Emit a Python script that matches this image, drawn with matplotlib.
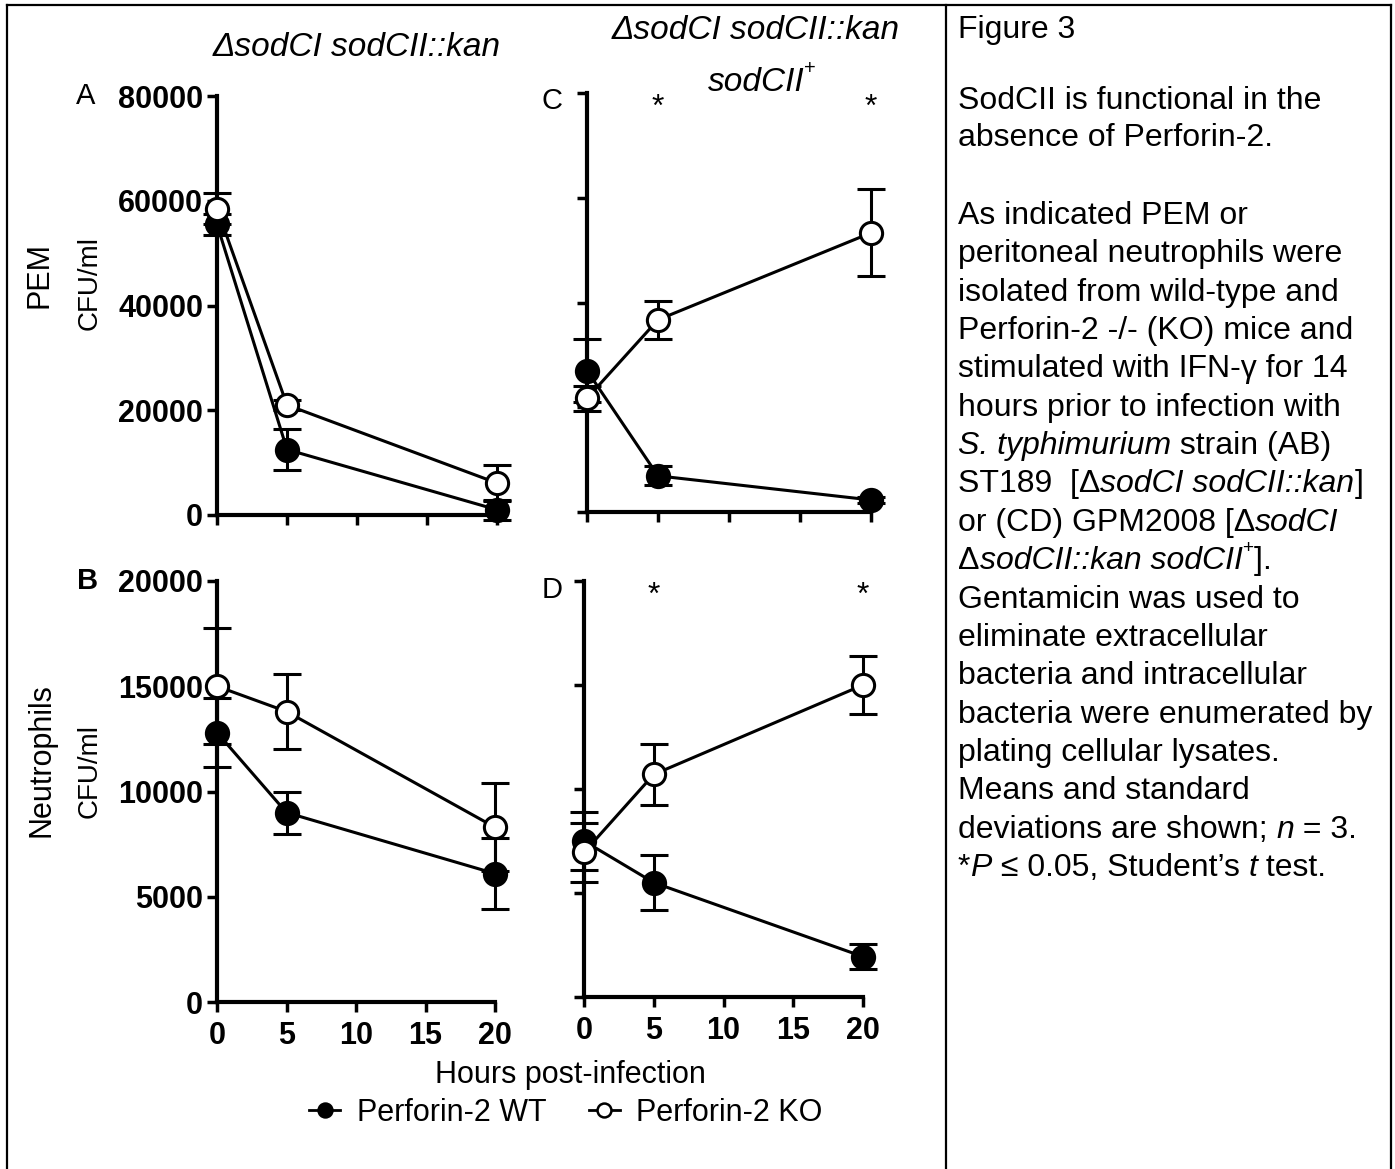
import matplotlib
matplotlib.use('Agg')
import matplotlib.pyplot as plt
from matplotlib.lines import Line2D

plt.rcParams['font.family'] = ['Liberation Sans', 'DejaVu Sans']

# time points and axis ticks
hours = [0, 5, 20]
x_ticks = [0, 5, 10, 15, 20]
pem_ticks = [0, 20000, 40000, 60000, 80000]
neu_ticks = [0, 5000, 10000, 15000, 20000]
series_names = ['Perforin-2 WT', 'Perforin-2 KO']
sig_hours = [5, 20]

# A: PEM, dsodCI sodCII::kan
pem_mut_wt = [55500, 12500, 1000]
pem_mut_wt_err = [2000, 3900, 1900]
pem_mut_ko = [58500, 21000, 6100]
pem_mut_ko_err = [3000, 1000, 3500]

# C: PEM, complemented
pem_comp_wt = [27000, 6900, 2300]
pem_comp_wt_err = [6000, 1800, 600]
pem_comp_ko = [21700, 36700, 53300]
pem_comp_ko_err = [2450, 3600, 8300]

# B: neutrophils, dsodCI sodCII::kan
neu_mut_wt = [12800, 9000, 6100]
neu_mut_wt_err = [1650, 1000, 1700]
neu_mut_ko = [15000, 13800, 8300]
neu_mut_ko_err = [2750, 1800, 2100]

# D: neutrophils, complemented
neu_comp_wt = [7500, 5500, 1940]
neu_comp_wt_err = [1400, 1325, 610]
neu_comp_ko = [6950, 10700, 15000]
neu_comp_ko_err = [1400, 1460, 1390]

W, H = 1395, 1169
fig = plt.figure(figsize=(W / 100, H / 100), dpi=100)
renderer = fig.canvas.get_renderer()


def px(x, y):
    return x / W, 1 - y / H


def panel(box, wt, wt_err, ko, ko_err, yticks, ylabels, xlabels, stars):
    l, t, r, b = box
    ax = fig.add_axes([l / W, 1 - b / H, (r - l) / W, (b - t) / H])
    ax.patch.set_visible(False)
    for y, err, face, z in [(wt, wt_err, 'black', 3), (ko, ko_err, 'white', 4)]:
        eb = ax.errorbar(hours, y, yerr=err, fmt='-o', color='black', mfc=face,
                         mec='black', ms=16, mew=2.2, lw=2.2, elinewidth=2.2,
                         capsize=10, capthick=2.2, zorder=z)
        for art in eb.get_children():
            art.set_clip_on(False)
    ax.set_xlim(0, 20)
    ax.set_ylim(yticks[0], yticks[-1])
    ax.set_xticks(x_ticks)
    ax.set_yticks(yticks)
    if ylabels:
        ax.set_yticklabels([str(v) for v in yticks])
    else:
        ax.set_yticklabels([])
    if xlabels:
        ax.set_xticklabels([str(v) for v in x_ticks])
    else:
        ax.set_xticklabels([])
    for side in ['top', 'right']:
        ax.spines[side].set_visible(False)
    for side in ['left', 'bottom']:
        ax.spines[side].set_linewidth(3)
        ax.spines[side].set_capstyle('projecting')
    ax.tick_params(length=7, width=2.5, direction='out')
    ax.tick_params(axis='y', pad=3, labelsize=22)
    ax.tick_params(axis='x', pad=7, labelsize=22)
    for lab in ax.get_xticklabels() + ax.get_yticklabels():
        lab.set_fontweight('bold')
    for s in stars:
        ax.text(s, 0.965, '*', transform=ax.get_xaxis_transform(),
                ha='center', va='center', fontsize=23)
    return ax


panel((217, 96, 497, 515), pem_mut_wt, pem_mut_wt_err, pem_mut_ko, pem_mut_ko_err,
      pem_ticks, True, False, [])
panel((587, 93, 871, 512), pem_comp_wt, pem_comp_wt_err, pem_comp_ko, pem_comp_ko_err,
      pem_ticks, False, False, sig_hours)
panel((217, 581, 495, 1002), neu_mut_wt, neu_mut_wt_err, neu_mut_ko, neu_mut_ko_err,
      neu_ticks, True, True, [])
panel((584, 581, 863, 997), neu_comp_wt, neu_comp_wt_err, neu_comp_ko, neu_comp_ko_err,
      neu_ticks, False, True, sig_hours)


def run_line(x, y, runs, size, align='left'):
    # draws a line made of pieces in different styles, y is the baseline in pixels
    widths = []
    for s, style in runs:
        fs = size * 0.6 if style == 'sup' else size
        st = 'italic' if style == 'it' else 'normal'
        probe = fig.text(0, 0, '|', fontsize=fs, fontstyle=st)
        bar = probe.get_window_extent(renderer).width
        probe.set_text(s + '|')
        widths.append(probe.get_window_extent(renderer).width - bar)
        probe.remove()
    cx = x - sum(widths) / 2 if align == 'center' else x
    for (s, style), w in zip(runs, widths):
        fs = size * 0.6 if style == 'sup' else size
        st = 'italic' if style == 'it' else 'normal'
        dy = -size * 0.5 * 100 / 72 if style == 'sup' else 0
        fig.text(*px(cx, y + dy), s, fontsize=fs, fontstyle=st, ha='left', va='baseline')
        cx += w


# column titles
run_line(357, 56, [('\u0394sodCI sodCII::kan', 'it')], 24, 'center')
run_line(756, 39, [('\u0394sodCI sodCII::kan', 'it')], 24, 'center')
run_line(762, 91, [('sodCII', 'it'), ('+', 'sup')], 24, 'center')

# panel letters
fig.text(*px(86, 96), 'A', fontsize=21, ha='center', va='center')
fig.text(*px(88, 581), 'B', fontsize=21, fontweight='bold', ha='center', va='center')
fig.text(*px(552, 101), 'C', fontsize=21, ha='center', va='center')
fig.text(*px(552, 590), 'D', fontsize=21, ha='center', va='center')

# y labels
fig.text(*px(39, 275), 'PEM', fontsize=22, rotation=90, ha='center', va='center')
fig.text(*px(90, 283), 'CFU/ml', fontsize=20, rotation=90, ha='center', va='center')
fig.text(*px(42, 760), 'Neutrophils', fontsize=22, rotation=90, ha='center', va='center')
fig.text(*px(90, 771), 'CFU/ml', fontsize=20, rotation=90, ha='center', va='center')

fig.text(*px(570, 1075), 'Hours post-infection', fontsize=22, ha='center', va='center')

handles = [Line2D([], [], color='black', marker='o', mfc='black', mec='black', ms=10, lw=2, mew=1.8),
           Line2D([], [], color='black', marker='o', mfc='white', mec='black', ms=10, lw=2, mew=1.8)]
fig.legend(handles, series_names, loc='center', bbox_to_anchor=px(566, 1113), ncol=2,
           frameon=False, fontsize=22, handlelength=1.0, handletextpad=0.55, columnspacing=1.4)

# caption on the right
cap = [
    [('Figure 3', 'rm')],
    [('SodCII is functional in the', 'rm')],
    [('absence of Perforin-2.', 'rm')],
    [('As indicated PEM or', 'rm')],
    [('peritoneal neutrophils were', 'rm')],
    [('isolated from wild-type and', 'rm')],
    [('Perforin-2 -/- (KO) mice and', 'rm')],
    [('stimulated with IFN-\u03b3 for 14', 'rm')],
    [('hours prior to infection with', 'rm')],
    [('S. typhimurium', 'it'), (' strain (AB)', 'rm')],
    [('ST189  [\u0394', 'rm'), ('sodCI sodCII::kan', 'it'), (']', 'rm')],
    [('or (CD) GPM2008 [\u0394', 'rm'), ('sodCI', 'it')],
    [('\u0394', 'rm'), ('sodCII::kan sodCII', 'it'), ('+', 'sup'), (']', 'rm'), ('.', 'rm')],
    [('Gentamicin was used to', 'rm')],
    [('eliminate extracellular', 'rm')],
    [('bacteria and intracellular', 'rm')],
    [('bacteria were enumerated by', 'rm')],
    [('plating cellular lysates.', 'rm')],
    [('Means and standard', 'rm')],
    [('deviations are shown; ', 'rm'), ('n', 'it'), (' = 3.', 'rm')],
    [('*', 'rm'), ('P', 'it'), (' \u2264 0.05, Student\u2019s ', 'rm'), ('t', 'it'), (' test.', 'rm')],
]
cap_y = [27, 98, 135] + [213 + 38.35 * k for k in range(18)]
for runs, yc in zip(cap, cap_y):
    run_line(958, yc + 11, runs, 23)

# frame around the figure
for xs, ys in [([7, 7], [5, H]), ([1391, 1391], [5, H]), ([946, 946], [5, H]), ([7, 1391], [5, 5])]:
    fig.add_artist(Line2D([x / W for x in xs], [1 - y / H for y in ys], color='black', lw=1.6))

fig.savefig('out.png', dpi=100)
